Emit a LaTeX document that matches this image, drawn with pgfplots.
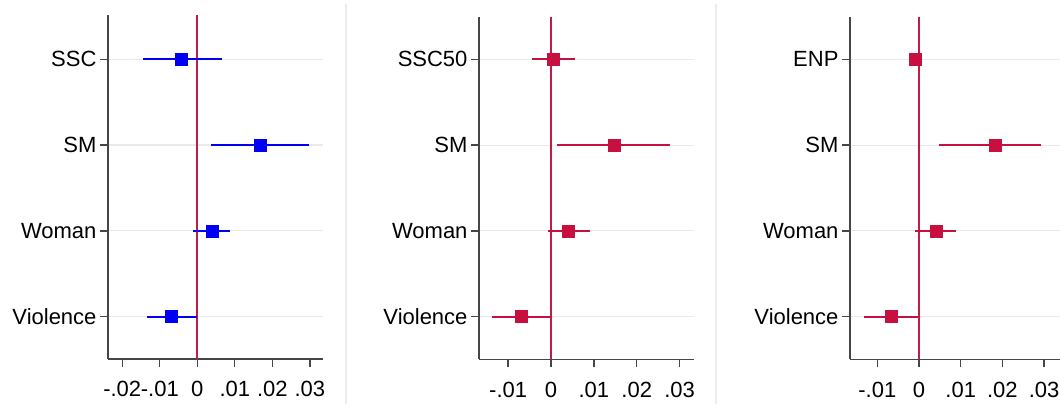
\documentclass[border=0pt]{standalone}
\usepackage{pgfplots}
\pgfplotsset{compat=1.18}
\usepackage{pgfplotstable}
\usepackage{fontspec}
\setmainfont{Liberation Sans}

\definecolor{coefblue}{RGB}{0,0,245}
\definecolor{coefred}{RGB}{200,16,64}
\definecolor{refred}{RGB}{192,28,72}
\definecolor{axisgray}{RGB}{70,70,70}
\definecolor{gridgray}{RGB}{234,234,234}
\definecolor{panelgray}{RGB}{236,236,236}

% point estimates with 95% confidence bounds; rows 1..4 from bottom to top
\pgfplotstableread{
row est lo hi
4 -0.0042 -0.0146 0.0065
3 0.0167 0.0037 0.0298
2 0.0039 -0.0011 0.0087
1 -0.0069 -0.0135 0.0000
}\tabSSC

\pgfplotstableread{
row est lo hi
4 0.0005 -0.0044 0.0055
3 0.0147 0.0015 0.0278
2 0.0040 -0.0007 0.0090
1 -0.0069 -0.0137 0.0000
}\tabSSCfifty

\pgfplotstableread{
row est lo hi
4 -0.0010 -0.0017 -0.0003
3 0.0182 0.0049 0.0293
2 0.0041 -0.0009 0.0089
1 -0.0066 -0.0133 -0.0002
}\tabENP

\pgfplotsset{
  coefpanel/.style={
    anchor=south west, scale only axis,
    axis x line*=bottom, axis y line*=left,
    axis line style={draw=axisgray, line width=1.3pt, -},
    tick style={draw=axisgray, line width=1.3pt},
    tick align=outside, major tick length=8pt,
    ytick={1,2,3,4},
    ymajorgrids,
    grid style={draw=gridgray, line width=1.2pt},
    tick label style={font=\fontsize{22}{24}\selectfont},
    xticklabel style={yshift=-11pt},
    scaled x ticks=false,
    xtick={-0.01,0,0.01,0.02,0.03},
    xticklabels={-.01,0,.01,.02,.03},
    clip=false,
  },
  zero ref/.style={draw=refred, line width=2.2pt, mark=none},
  coefs/.style={only marks, mark=square*, mark size=6pt, color=#1,
    mark options={line width=0.6pt},
    error bars/.cd, x dir=both, x explicit,
    error bar style={line width=1.8pt, color=#1}, error mark=none},
}

\begin{document}
\begin{tikzpicture}
\path (0,0) rectangle (1060pt,404pt);

% left panel
\begin{axis}[coefpanel, at={(108pt,45pt)}, width=215pt, height=344pt,
  xmin=-0.0238, xmax=0.0335, ymin=0.507, ymax=4.516,
  xtick={-0.02,-0.01,0,0.01,0.02,0.03},
  xticklabels={-.02,-.01,0,.01,.02,.03},
  yticklabels={Violence,Woman,SM,SSC}]
  \addplot[zero ref] coordinates {(0,0.507) (0,4.516)};
  \addplot[coefs=coefblue] table[x=est, y=row,
    x error plus expr=\thisrow{hi}-\thisrow{est},
    x error minus expr=\thisrow{est}-\thisrow{lo}] {\tabSSC};
\end{axis}

% middle panel
\begin{axis}[coefpanel, at={(479pt,44.7pt)}, width=214.7pt, height=342.6pt,
  xmin=-0.0168, xmax=0.0333, ymin=0.503, ymax=4.497,
  yticklabels={Violence,Woman,SM,SSC50}]
  \addplot[zero ref] coordinates {(0,0.503) (0,4.497)};
  \addplot[coefs=coefred] table[x=est, y=row,
    x error plus expr=\thisrow{hi}-\thisrow{est},
    x error minus expr=\thisrow{est}-\thisrow{lo}] {\tabSSCfifty};
\end{axis}

% right panel
\begin{axis}[coefpanel, at={(850pt,44.7pt)}, width=213pt, height=342.6pt,
  xmin=-0.01655, xmax=0.03453, ymin=0.503, ymax=4.497,
  yticklabels={Violence,Woman,SM,ENP}]
  \addplot[zero ref] coordinates {(0,0.503) (0,4.497)};
  \addplot[coefs=coefred] table[x=est, y=row,
    x error plus expr=\thisrow{hi}-\thisrow{est},
    x error minus expr=\thisrow{est}-\thisrow{lo}] {\tabENP};
\end{axis}

% panel borders
\draw[panelgray, line width=1.5pt] (346pt,0) -- (346pt,400pt);
\draw[panelgray, line width=1.5pt] (716pt,0) -- (716pt,400pt);

\pgfresetboundingbox
\path (0,0) rectangle (1060pt,404pt);
\end{tikzpicture}
\end{document}
